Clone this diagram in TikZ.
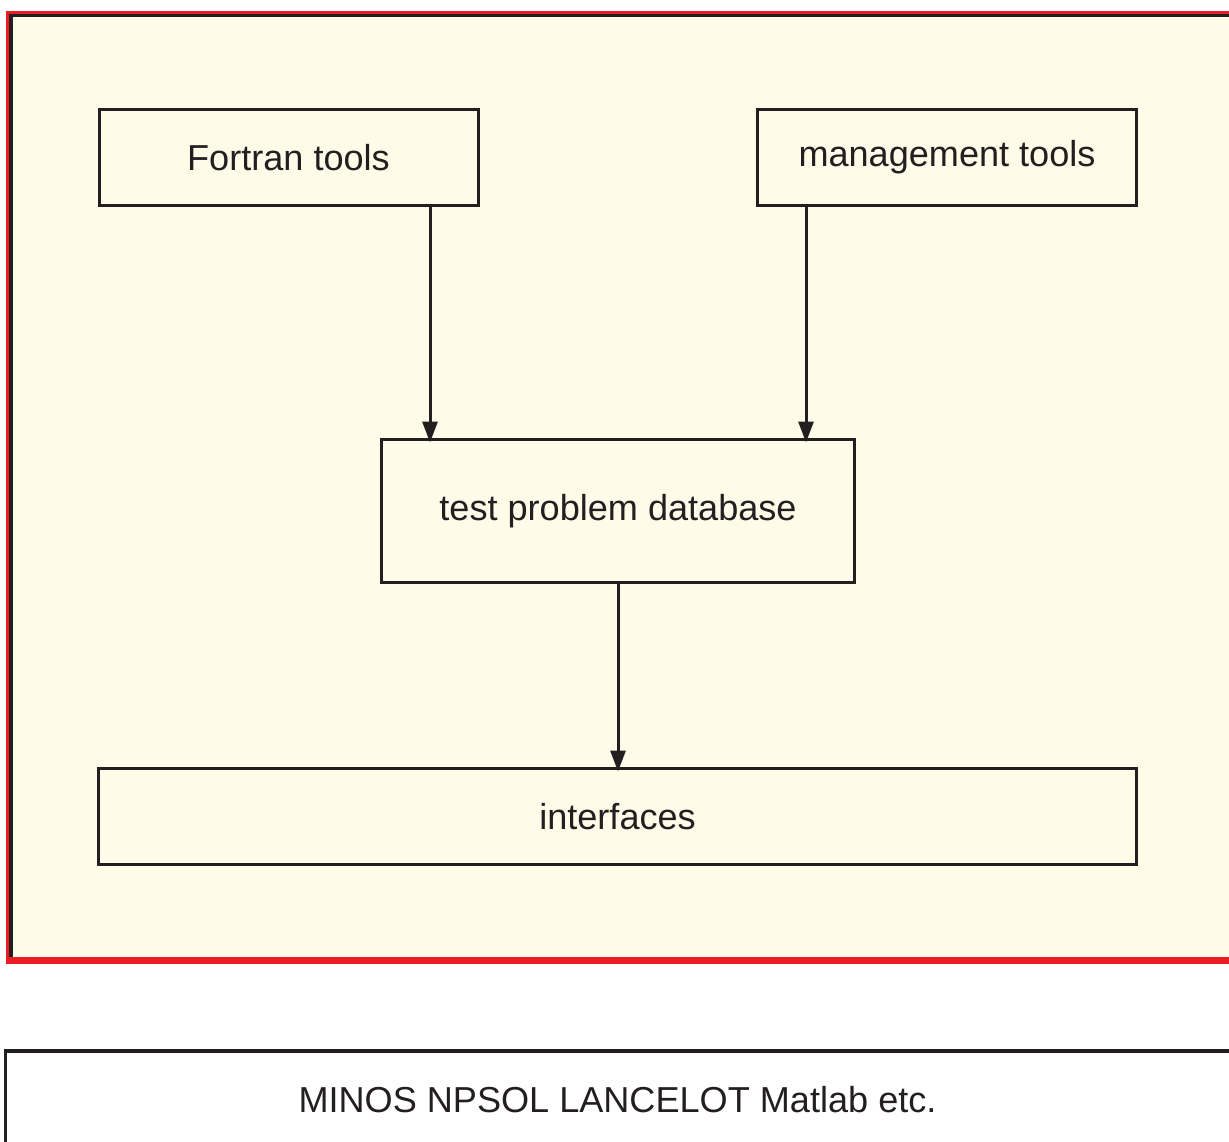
\documentclass[tikz,border=0pt]{standalone}
\usepackage{fontspec}
\setmainfont{Liberation Sans}
\usetikzlibrary{arrows.meta}
\definecolor{ink}{HTML}{231F20}
\definecolor{cream}{HTML}{FEFBE8}
\definecolor{framered}{HTML}{ED1C24}
\begin{document}
\begin{tikzpicture}[x=1pt,y=-1pt,
  box/.style={draw=ink, line width=3pt, fill=cream, inner sep=0pt, outer sep=0pt,
    text=ink, font=\fontsize{36.1}{40}\selectfont},
  flow/.style={draw=ink, line width=3pt, -{Triangle[length=21pt,width=15pt]}, shorten >=-3pt}]
\useasboundingbox (0,0) rectangle (1229,1142);
\clip (0,0) rectangle (1229,1142);
% outer frame
\fill[framered] (6,11) rectangle (1240,964);
\fill[cream] (9,14) rectangle (1240,957);
\fill[ink] (9,14) rectangle (13,957);
\fill[ink] (9,14) rectangle (1240,17);
% bottom frame
\fill[ink] (4,1049) rectangle (1240,1053);
\fill[ink] (4,1049) rectangle (7,1150);
% boxes
\node[box, minimum width=379pt, minimum height=96pt] (fortran) at (288.5,157.5) {Fortran tools};
\node[box, minimum width=379pt, minimum height=96pt] (mgmt) at (947,157.5) {management tools};
\node[box, minimum width=473pt, minimum height=143pt] (db) at (618,511) {test problem database};
\node[box, minimum width=1038pt, minimum height=96pt] (iface) at (617.5,816.5) {interfaces};
\node[text=ink, font=\fontsize{36.1}{40}\selectfont] (solvers) at (617.5,1100) {MINOS NPSOL LANCELOT Matlab etc.};
% connectors
\coordinate (fa) at (430,0);
\coordinate (ma) at (806,0);
\coordinate (da) at (618,0);
\draw[flow] (fortran.south -| fa) -- (db.north -| fa);
\draw[flow] (mgmt.south -| ma) -- (db.north -| ma);
\draw[flow] (db.south -| da) -- (iface.north -| da);
\end{tikzpicture}
\end{document}
